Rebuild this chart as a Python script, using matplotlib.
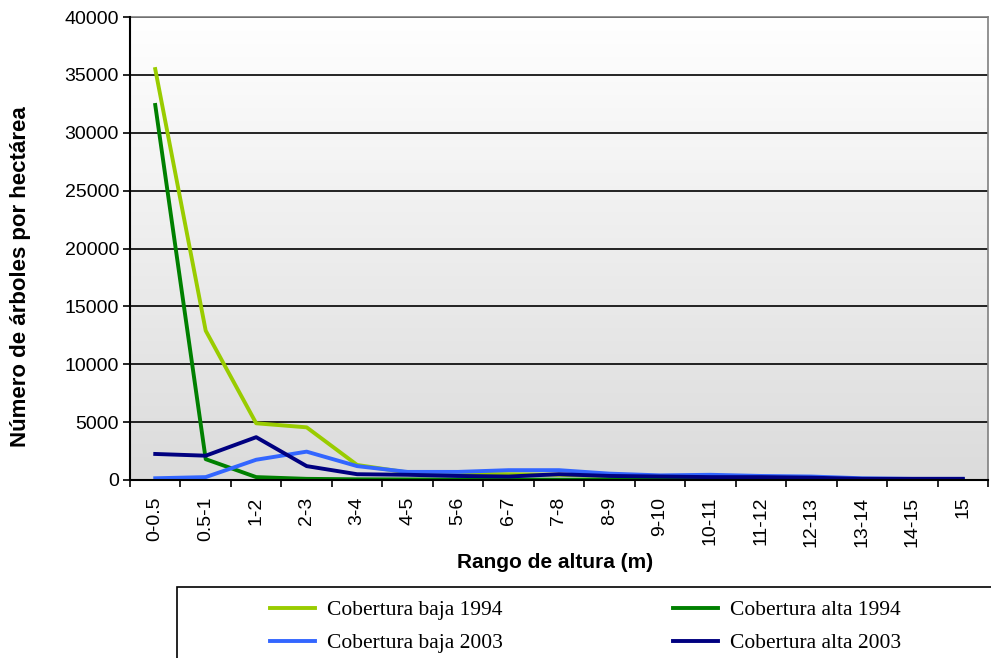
import numpy as np
import matplotlib
matplotlib.use("Agg")
import matplotlib.pyplot as plt
from matplotlib.patches import Rectangle

categories = ["0-0.5", "0.5-1", "1-2", "2-3", "3-4", "4-5", "5-6", "6-7", "7-8",
              "8-9", "9-10", "10-11", "11-12", "12-13", "13-14", "14-15", "15"]
baja_1994 = [35500, 12900, 4900, 4550, 1300, 650, 550, 500, 450, 350, 300, 250, 200, 150, 100, 80, 60]
alta_1994 = [32400, 1800, 250, 100, 60, 50, 40, 40, 30, 30, 30, 20, 20, 20, 10, 10, 10]
baja_2003 = [150, 250, 1750, 2450, 1200, 700, 700, 850, 850, 550, 400, 450, 350, 300, 150, 100, 100]
alta_2003 = [2250, 2100, 3700, 1200, 500, 450, 350, 300, 500, 350, 300, 250, 250, 200, 100, 100, 100]

series = [
    ("Cobertura baja 1994", baja_1994, "#99CC00"),
    ("Cobertura alta 1994", alta_1994, "#008000"),
    ("Cobertura baja 2003", baja_2003, "#3366FF"),
    ("Cobertura alta 2003", alta_2003, "#000080"),
]

W, H = 991, 658
fig = plt.figure(figsize=(W / 100, H / 100), dpi=100)
plt.rcParams['font.family'] = ['Liberation Sans', 'DejaVu Sans']

left, right, top, bottom = 130, 988, 17, 480
ax = fig.add_axes([left / W, 1 - bottom / H, (right - left) / W, (bottom - top) / H])

x = np.arange(len(categories))
ax.set_xlim(-0.5, len(categories) - 0.5)
ax.set_ylim(0, 40000)

# gradient background
grad = np.linspace(1, 0, 256).reshape(-1, 1)
top_c = np.array([1.0, 1.0, 1.0])
bot_c = np.array([0.86, 0.86, 0.86])
img = grad[..., None] * top_c + (1 - grad[..., None]) * bot_c
ax.imshow(img, extent=[0, 1, 0, 1], transform=ax.transAxes, aspect='auto', zorder=0)

ax.set_yticks(np.arange(0, 40001, 5000))
ax.yaxis.grid(True, color='black', linewidth=1.2, zorder=1)
ax.set_axisbelow(True)

handles = {}
for name, vals, col in series:
    h, = ax.plot(x, vals, color=col, linewidth=2.8, label=name, zorder=3)
    handles[name] = h

ax.set_xticks(x)
ax.set_xticklabels(categories, rotation=90, fontsize=14)
ax.set_xticks(np.arange(-0.5, len(categories), 1), minor=True)
ax.tick_params(axis='x', which='major', length=0, pad=12)
ax.tick_params(axis='x', which='minor', length=5, width=1.2, direction='out', color='black')
ax.tick_params(axis='y', length=5, width=1.2, direction='out', labelsize=14, pad=3)

for s in ['left', 'bottom']:
    ax.spines[s].set_color('black')
    ax.spines[s].set_linewidth(1.5)
    ax.spines[s].set_zorder(4)
for s in ['top', 'right']:
    ax.spines[s].set_color('#808080')
    ax.spines[s].set_linewidth(1.2)

fig.text(21 / W, 1 - 277 / H, "Número de árboles por hectárea", rotation=90,
         ha='center', va='center', fontsize=16, fontweight='bold')
fig.text(555 / W, 1 - 563 / H, "Rango de altura (m)", ha='center', va='center',
         fontsize=15, fontweight='bold')

# legend frame
fig.patches.append(Rectangle((177 / W, -0.01), 1 - 177 / W + 0.01, 1 - 587 / H + 0.01,
                             transform=fig.transFigure, fill=False, edgecolor='black',
                             linewidth=1.2, clip_on=False))
order = ["Cobertura baja 1994", "Cobertura baja 2003", "Cobertura alta 1994", "Cobertura alta 2003"]
leg = fig.legend(handles=[handles[n] for n in order], ncol=2, loc='upper left',
                 bbox_to_anchor=(253 / W, 1 - 583 / H), frameon=False,
                 prop={'family': 'Liberation Serif', 'size': 15.5},
                 handlelength=2.1, handletextpad=0.55, columnspacing=7.9,
                 labelspacing=0.6, borderpad=0.3)

fig.savefig("out.png", dpi=100)
